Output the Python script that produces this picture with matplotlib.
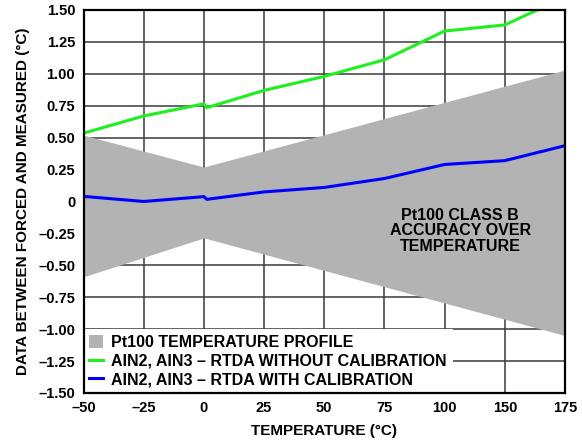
import matplotlib
matplotlib.use("Agg")
import matplotlib.pyplot as plt
from matplotlib.patches import Patch
from matplotlib.lines import Line2D

plt.rcParams['font.family'] = ['Liberation Sans', 'DejaVu Sans']
plt.rcParams['font.weight'] = 'bold'

# Category tick labels (equally spaced on the axis)
x_labels = ['–50', '–25', '0', '25', '50', '75', '100', '150', '175']
y_ticks = [1.5, 1.25, 1.0, 0.75, 0.5, 0.25, 0, -0.25, -0.5, -0.75, -1.0, -1.25, -1.5]
y_labels = ['1.50', '1.25', '1.00', '0.75', '0.50', '0.25', '0', '–0.25', '–0.50',
            '–0.75', '–1.00', '–1.25', '–1.50']

# Measurement positions (category index; 2.05 = repeated reading just after 0 °C)
meas_pos = [0, 1, 2, 2.05, 3, 4, 5, 6, 7, 8]
no_cal = [0.535, 0.67, 0.765, 0.735, 0.87, 0.98, 1.11, 1.335, 1.383, 1.60]
with_cal = [0.04, 0.0, 0.038, 0.017, 0.075, 0.11, 0.18, 0.29, 0.32, 0.437]

# Pt100 class B accuracy band
band_pos = [0, 2, 8]
band_upper = [0.52, 0.27, 1.03]
band_lower = [-0.59, -0.285, -1.05]

fig = plt.figure(figsize=(5.82, 4.44), dpi=100)
ax = fig.add_axes([0.1435, 0.1149, 0.8273, 0.8626])

ax.set_xlim(0, 8)
ax.set_ylim(-1.5, 1.5)
ax.set_xticks(range(len(x_labels)))
ax.set_xticklabels(x_labels)
ax.set_yticks(y_ticks)
ax.set_yticklabels(y_labels)
ax.tick_params(length=0, labelsize=10.5, pad=6)
for lab in ax.get_xticklabels() + ax.get_yticklabels():
    lab.set_fontweight('bold')

ax.grid(True, color='#3a3a3a', linewidth=1.1, zorder=0)
ax.set_axisbelow(True)

ax.fill_between(band_pos, band_lower, band_upper, color='#b3b3b3', linewidth=0, zorder=1)
ax.plot(meas_pos, no_cal, color='#1ef01e', linewidth=2.2, zorder=3, solid_joinstyle='miter')
ax.plot(meas_pos, with_cal, color='#0000ff', linewidth=2.2, zorder=3, solid_joinstyle='miter')

for s in ax.spines.values():
    s.set_linewidth(1.6)
    s.set_color('black')
    s.set_zorder(5)

ax.text(6.26, -0.23, 'Pt100 CLASS B\nACCURACY OVER\nTEMPERATURE', ha='center', va='center',
        fontsize=11.5, fontweight='bold', linespacing=1.05, zorder=4)

ax.set_xlabel('TEMPERATURE (°C)', fontsize=11, fontweight='bold', labelpad=6)
ax.set_ylabel('DATA BETWEEN FORCED AND MEASURED (°C)', fontsize=11, fontweight='bold', labelpad=6)

handles = [Patch(facecolor='#b3b3b3', edgecolor='none'),
           Line2D([], [], color='#1ef01e', linewidth=2.2),
           Line2D([], [], color='#0000ff', linewidth=2.2)]
labels = ['Pt100 TEMPERATURE PROFILE',
          'AIN2, AIN3 – RTDA WITHOUT CALIBRATION',
          'AIN2, AIN3 – RTDA WITH CALIBRATION']
leg = ax.legend(handles, labels, loc='lower left', bbox_to_anchor=(0, 0), borderaxespad=0,
                frameon=True, fancybox=False, framealpha=1, facecolor='white', edgecolor='none',
                prop={'size': 11.5, 'weight': 'bold'}, handlelength=0.9, handleheight=0.9,
                handletextpad=0.5, labelspacing=0.22, borderpad=0.35)
leg.set_zorder(4)

fig.savefig('out.png', dpi=100)
